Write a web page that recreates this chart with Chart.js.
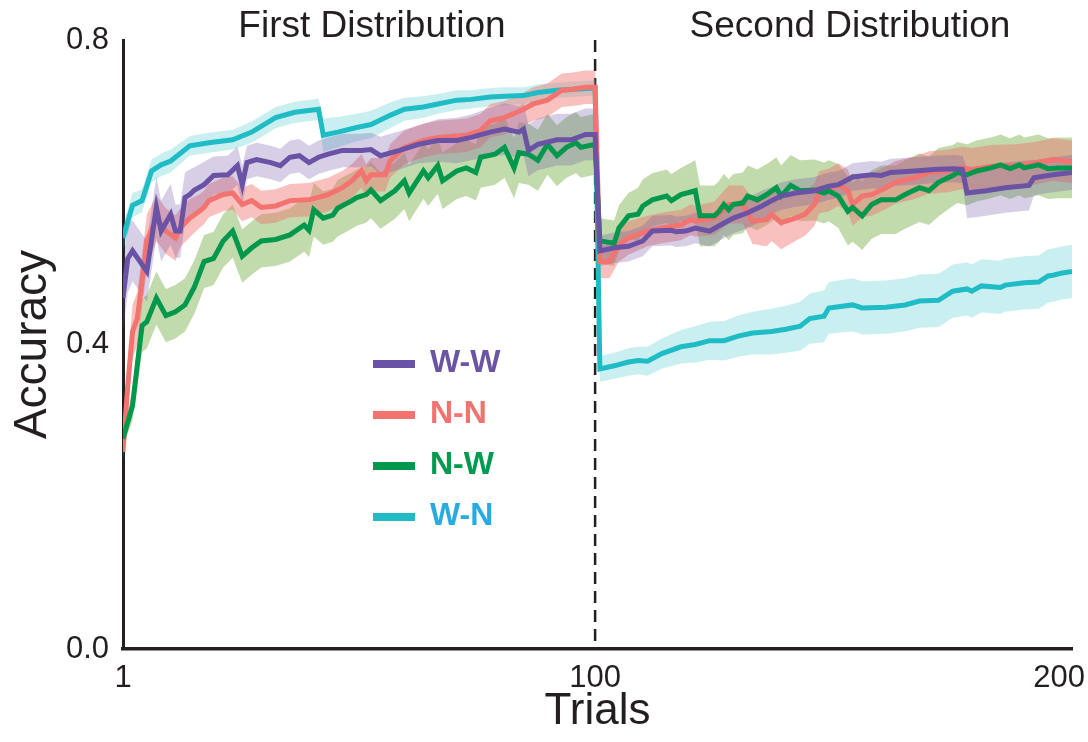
<!DOCTYPE html>
<html>
<head>
<meta charset="utf-8">
<style>
  html, body { margin: 0; padding: 0; background: #fff; }
  #wrap { width: 1088px; height: 742px; }
</style>
<script src="https://cdn.jsdelivr.net/npm/chart.js@4.4.1/dist/chart.umd.min.js"></script>
</head>
<body>
<div id="wrap"><canvas id="chart" width="1088" height="742"></canvas></div>
<script>
// values (trial number, mean accuracy, half-width of the shaded band)
const wwTrials = [1, 2, 3, 6, 8, 9, 11, 12, 13, 14, 15, 16, 18, 20, 23, 25, 26, 27, 29, 32, 34, 36, 38, 40, 42, 44, 47, 51, 53, 55,
  59, 63, 67, 71, 74, 78, 81, 84, 85, 86, 88, 92, 95, 98, 100,
  101, 104, 107, 110, 112, 116, 117, 119, 121, 124, 126, 129, 132, 135, 137, 139, 142, 146, 149, 151,
  154, 158, 160, 162, 167, 171, 175, 177, 178, 182, 186, 191, 192, 196, 200];
const wwMean = [0.461, 0.513, 0.523, 0.496, 0.580, 0.549, 0.571, 0.549, 0.549, 0.593, 0.597, 0.603, 0.610, 0.622, 0.623, 0.635, 0.610, 0.639, 0.643, 0.639,
  0.635, 0.646, 0.648, 0.639, 0.646, 0.650, 0.655, 0.655, 0.656, 0.648, 0.655, 0.663, 0.668, 0.668, 0.672, 0.679, 0.683, 0.679, 0.683, 0.655,
  0.663, 0.669, 0.669, 0.676, 0.676,
  0.523, 0.527, 0.529, 0.536, 0.549, 0.550, 0.548, 0.549, 0.553, 0.549, 0.556, 0.566, 0.573, 0.582, 0.589, 0.595, 0.599, 0.602, 0.608, 0.610,
  0.620, 0.623, 0.622, 0.626, 0.628, 0.630, 0.631, 0.630, 0.599, 0.602, 0.606, 0.609, 0.619, 0.623, 0.626];
const wwErr = [0.045, 0.045, 0.04, 0.04, 0.04, 0.04, 0.04, 0.035, 0.035, 0.033, 0.033, 0.03, 0.03, 0.025, 0.025, 0.025, 0.025, 0.022, 0.022, 0.022,
  0.022, 0.022, 0.022, 0.022, 0.022, 0.022, 0.022, 0.022, 0.022, 0.025, 0.025, 0.025, 0.028, 0.03, 0.03, 0.032, 0.034, 0.034, 0.034, 0.034,
  0.034, 0.034, 0.034, 0.034, 0.034,
  0.02, 0.02, 0.02, 0.02, 0.02, 0.02, 0.02, 0.02, 0.02, 0.02, 0.02, 0.02, 0.02, 0.02, 0.018, 0.018, 0.018, 0.018, 0.018, 0.018,
  0.018, 0.018, 0.018, 0.018, 0.018, 0.018, 0.018, 0.018, 0.033, 0.033, 0.033, 0.033, 0.023, 0.023, 0.023];

const nnTrials = [1, 2, 3, 4, 5, 6, 8, 10, 12, 13, 15, 17, 18, 19, 22, 24, 26, 28, 30, 33, 36, 40, 44, 47, 49, 51, 52, 53, 56, 57,
  60, 64, 67, 73, 76, 78, 81, 85, 87, 90, 93, 95, 98, 100,
  101, 103, 105, 107, 111, 114, 118, 120, 121, 125, 128, 131, 133, 136, 137, 139, 142, 144, 146, 147,
  149, 151, 153, 154, 156, 158, 161, 163, 167, 170, 174, 177, 179, 183, 188, 192, 196, 200];
const nnMean = [0.259, 0.346, 0.417, 0.434, 0.483, 0.536, 0.566, 0.549, 0.540, 0.553, 0.566, 0.575, 0.580, 0.589, 0.597, 0.599, 0.584, 0.589, 0.580, 0.582,
  0.589, 0.590, 0.597, 0.606, 0.615, 0.628, 0.615, 0.623, 0.623, 0.641, 0.659, 0.668, 0.672, 0.675, 0.681, 0.694, 0.698, 0.709, 0.716, 0.721,
  0.734, 0.735, 0.738, 0.738,
  0.509, 0.509, 0.531, 0.540, 0.549, 0.553, 0.557, 0.564, 0.562, 0.566, 0.584, 0.584, 0.562, 0.564, 0.571, 0.560, 0.566, 0.571, 0.584, 0.600,
  0.603, 0.610, 0.602, 0.584, 0.595, 0.597, 0.606, 0.613, 0.619, 0.626, 0.628, 0.632, 0.630, 0.634, 0.635, 0.638, 0.643, 0.640];
const nnErr = [0.01, 0.03, 0.035, 0.035, 0.035, 0.035, 0.03, 0.03, 0.03, 0.025, 0.025, 0.022, 0.022, 0.022, 0.022, 0.022, 0.022, 0.022, 0.022, 0.022,
  0.022, 0.022, 0.022, 0.022, 0.022, 0.022, 0.022, 0.022, 0.022, 0.022, 0.022, 0.022, 0.022, 0.022, 0.022, 0.022, 0.022, 0.022, 0.022, 0.022,
  0.022, 0.022, 0.022, 0.022,
  0.022, 0.022, 0.022, 0.022, 0.02, 0.02, 0.02, 0.02, 0.02, 0.022, 0.025, 0.025, 0.03, 0.035, 0.035, 0.035, 0.03, 0.028, 0.028, 0.028,
  0.028, 0.028, 0.028, 0.028, 0.028, 0.028, 0.028, 0.028, 0.028, 0.028, 0.028, 0.028, 0.028, 0.028, 0.028, 0.028, 0.028, 0.028];

const nwTrials = [1, 3, 4, 5, 6, 8, 10, 12, 14, 16, 18, 20, 22, 24, 26, 28, 30, 33, 36, 39, 40, 41, 43, 45, 46, 49, 50, 52, 53, 55,
  58, 60, 61, 64, 65, 67, 68, 71, 73, 75, 76, 79, 81, 83, 84, 86, 88, 90, 92, 94, 96, 97, 100,
  101, 104, 105, 107, 109, 110, 112, 115, 116, 118, 121, 122, 125, 126, 127, 128, 129, 131, 132, 134,
  136, 138, 139, 141, 143, 146, 148, 149, 151, 153, 154, 156, 158, 160, 163, 165, 168, 170, 172, 175,
  176, 178, 180, 183, 185, 187, 189, 190, 193, 195, 197, 200];
const nwMean = [0.276, 0.320, 0.373, 0.425, 0.430, 0.461, 0.438, 0.443, 0.452, 0.476, 0.509, 0.513, 0.536, 0.549, 0.516, 0.527, 0.536, 0.538, 0.544, 0.557,
  0.550, 0.577, 0.566, 0.570, 0.579, 0.589, 0.593, 0.597, 0.603, 0.589, 0.602, 0.615, 0.599, 0.628, 0.619, 0.635, 0.615, 0.628, 0.632, 0.626,
  0.646, 0.650, 0.659, 0.632, 0.652, 0.650, 0.642, 0.663, 0.648, 0.659, 0.665, 0.659, 0.663,
  0.536, 0.533, 0.553, 0.569, 0.571, 0.582, 0.590, 0.595, 0.589, 0.597, 0.602, 0.569, 0.569, 0.575, 0.584, 0.577, 0.584, 0.586, 0.595, 0.590,
  0.597, 0.606, 0.595, 0.609, 0.602, 0.603, 0.599, 0.602, 0.595, 0.575, 0.580, 0.569, 0.584, 0.590, 0.590, 0.597, 0.606, 0.602, 0.613, 0.622,
  0.626, 0.623, 0.628, 0.632, 0.636, 0.631, 0.636, 0.632, 0.636, 0.631, 0.632, 0.632];
const nwErr = [0.01, 0.02, 0.03, 0.035, 0.035, 0.035, 0.035, 0.035, 0.035, 0.035, 0.035, 0.035, 0.035, 0.035, 0.035, 0.035, 0.035, 0.035, 0.035, 0.035,
  0.035, 0.035, 0.035, 0.035, 0.037, 0.037, 0.037, 0.037, 0.037, 0.037, 0.037, 0.037, 0.037, 0.037, 0.037, 0.037, 0.037, 0.037, 0.037, 0.037,
  0.04, 0.04, 0.04, 0.04, 0.04, 0.04, 0.04, 0.04, 0.04, 0.04, 0.04, 0.04, 0.04,
  0.03, 0.03, 0.03, 0.03, 0.035, 0.035, 0.035, 0.035, 0.035, 0.035, 0.04, 0.04, 0.04, 0.04, 0.04, 0.04, 0.04, 0.04, 0.04, 0.04,
  0.04, 0.04, 0.04, 0.04, 0.04, 0.04, 0.04, 0.04, 0.042, 0.045, 0.045, 0.045, 0.045, 0.045, 0.045, 0.045, 0.045, 0.045, 0.045, 0.04,
  0.04, 0.04, 0.04, 0.04, 0.04, 0.04, 0.04, 0.04, 0.04, 0.04, 0.04, 0.04];

const wnTrials = [1, 3, 5, 7, 9, 11, 15, 19, 24, 28, 33, 37, 42, 43, 46, 50, 53, 57, 60, 64, 67, 71, 74, 78, 81, 85, 88, 92, 95, 100,
  101, 104, 107, 109, 111, 114, 118, 121, 124, 127, 130, 133, 137, 140, 143, 145, 148, 149, 154, 156,
  161, 165, 168, 172, 175, 178, 179, 181, 185, 186, 190, 193, 195, 196, 198, 200];
const wnMean = [0.540, 0.583, 0.589, 0.628, 0.636, 0.641, 0.661, 0.665, 0.669, 0.679, 0.698, 0.705, 0.709, 0.675, 0.679, 0.685, 0.689, 0.701, 0.709, 0.712,
  0.716, 0.721, 0.722, 0.725, 0.726, 0.727, 0.731, 0.734, 0.735, 0.737,
  0.368, 0.372, 0.377, 0.379, 0.378, 0.388, 0.397, 0.400, 0.405, 0.405, 0.411, 0.415, 0.417, 0.420, 0.424, 0.434, 0.437, 0.448, 0.452, 0.448,
  0.449, 0.452, 0.457, 0.458, 0.470, 0.473, 0.470, 0.477, 0.475, 0.478, 0.481, 0.482, 0.490, 0.491, 0.494, 0.496];
const wnErr = [0.017, 0.016, 0.015, 0.015, 0.015, 0.015, 0.013, 0.013, 0.013, 0.014, 0.014, 0.014, 0.014, 0.022, 0.02, 0.018, 0.018, 0.017, 0.015, 0.014,
  0.013, 0.013, 0.012, 0.012, 0.012, 0.011, 0.011, 0.01, 0.01, 0.01,
  0.017, 0.017, 0.018, 0.018, 0.019, 0.02, 0.022, 0.024, 0.025, 0.026, 0.027, 0.028, 0.03, 0.031, 0.032, 0.033, 0.034, 0.034, 0.035, 0.035,
  0.035, 0.035, 0.035, 0.035, 0.035, 0.035, 0.035, 0.035, 0.035, 0.035, 0.035, 0.035, 0.035, 0.035, 0.035, 0.035];

const yTicks = [0, 0.4, 0.8];
const xTicks = [1, 100, 200];
const phaseSplit = 100;
const phaseTitles = ['First Distribution', 'Second Distribution'];

const series = [
  { name: 'W-W', trials: wwTrials, mean: wwMean, err: wwErr, line: '#6a53a4', band: 'rgba(106,83,164,0.28)', text: '#6b55a3', order: 0 },
  { name: 'N-N', trials: nnTrials, mean: nnMean, err: nnErr, line: '#f2736f', band: 'rgba(240,115,110,0.45)', text: '#f0736f', order: 2 },
  { name: 'N-W', trials: nwTrials, mean: nwMean, err: nwErr, line: '#00984c', band: 'rgba(120,175,70,0.45)', text: '#009a4e', order: 1 },
  { name: 'W-N', trials: wnTrials, mean: wnMean, err: wnErr, line: '#20bcc5', band: 'rgba(34,187,197,0.24)', text: '#29abe2', order: 3 },
];

const ink = '#231f20';
const datasets = [];
series.forEach((s) => {
  const base = datasets.length;
  datasets.push({
    label: s.name + ' lower',
    data: s.trials.map((t, i) => ({ x: t, y: s.mean[i] - s.err[i] })),
    borderColor: 'rgba(0,0,0,0)',
    borderWidth: 0,
    pointRadius: 0,
    fill: false,
    order: 10,
  });
  datasets.push({
    label: s.name + ' upper',
    data: s.trials.map((t, i) => ({ x: t, y: s.mean[i] + s.err[i] })),
    borderColor: 'rgba(0,0,0,0)',
    borderWidth: 0,
    pointRadius: 0,
    backgroundColor: s.band,
    fill: { target: base },
    order: 10,
  });
});
series.forEach((s) => {
  datasets.push({
    label: s.name,
    data: s.trials.map((t, i) => ({ x: t, y: s.mean[i] })),
    borderColor: s.line,
    borderWidth: 5,
    pointRadius: 0,
    fill: false,
    tension: 0,
    order: s.order,
  });
});

const decorPlugin = {
  id: 'decor',
  beforeDatasetsDraw(chart) {
    const { ctx, chartArea, scales } = chart;
    const x = scales.x.getPixelForValue(phaseSplit);
    ctx.save();
    ctx.strokeStyle = ink;
    ctx.lineWidth = 2.5;
    ctx.setLineDash([12, 7]);
    ctx.beginPath();
    ctx.moveTo(x, chartArea.top);
    ctx.lineTo(x, chartArea.bottom);
    ctx.stroke();
    ctx.restore();
  },
  afterDraw(chart) {
    const { ctx, scales, chartArea } = chart;
    ctx.save();
    // x tick labels, kept inside the canvas
    ctx.fillStyle = ink;
    ctx.font = '31px "Liberation Sans", Arial, sans-serif';
    ctx.textAlign = 'center';
    ctx.textBaseline = 'alphabetic';
    xTicks.forEach((v) => {
      const w = ctx.measureText(String(v)).width;
      let px = scales.x.getPixelForValue(v);
      px = Math.min(px, chart.width - 3 - w / 2);
      ctx.fillText(String(v), px, 687);
    });
    // phase titles
    ctx.font = '37px "Liberation Sans", Arial, sans-serif';
    ctx.fillText(phaseTitles[0], 372, 37);
    ctx.fillText(phaseTitles[1], 850, 37);
    // legend
    const rows = [364, 415, 466, 517];
    series.forEach((s, i) => {
      const y = rows[i];
      ctx.fillStyle = s.line;
      ctx.fillRect(373, y - 4, 42, 8);
      ctx.fillStyle = s.text;
      ctx.font = 'bold 32px "Liberation Sans", Arial, sans-serif';
      ctx.textAlign = 'left';
      ctx.textBaseline = 'middle';
      ctx.fillText(s.name, 430, y - 1);
    });
    ctx.restore();
  },
};

new Chart(document.getElementById('chart'), {
  type: 'line',
  data: { datasets },
  plugins: [decorPlugin],
  options: {
    responsive: false,
    animation: false,
    events: [],
    layout: { padding: { top: 40, right: 16, left: 0, bottom: 0 } },
    plugins: {
      legend: { display: false },
      tooltip: { enabled: false },
      filler: { propagate: false },
    },
    scales: {
      x: {
        type: 'linear',
        min: 1,
        max: 200,
        grid: { display: false, drawTicks: false },
        border: { display: true, color: ink, width: 3.5 },
        ticks: { display: false },
        title: {
          display: true,
          text: 'Trials',
          color: ink,
          font: { family: '"Liberation Sans", Arial, sans-serif', size: 44 },
          padding: { top: 0, bottom: 4 },
        },
        afterFit: (scale) => {
          scale.height = 93;
          scale.paddingLeft = 0;
          scale.paddingRight = 0;
        },
      },
      y: {
        min: 0,
        max: 0.8,
        grid: { display: false, drawTicks: false },
        border: { display: true, color: ink, width: 3 },
        afterBuildTicks: (scale) => {
          scale.ticks = yTicks.map((v) => ({ value: v }));
        },
        ticks: {
          color: ink,
          padding: 14,
          font: { family: '"Liberation Sans", Arial, sans-serif', size: 31 },
          callback: (v) => Number(v).toFixed(1),
        },
        title: {
          display: true,
          text: 'Accuracy',
          color: ink,
          font: { family: '"Liberation Sans", Arial, sans-serif', size: 46 },
          padding: { top: 6, bottom: 0 },
        },
        afterFit: (scale) => {
          scale.width = 123;
          scale.paddingTop = 0;
          scale.paddingBottom = 0;
        },
      },
    },
  },
});
</script>
</body>
</html>
